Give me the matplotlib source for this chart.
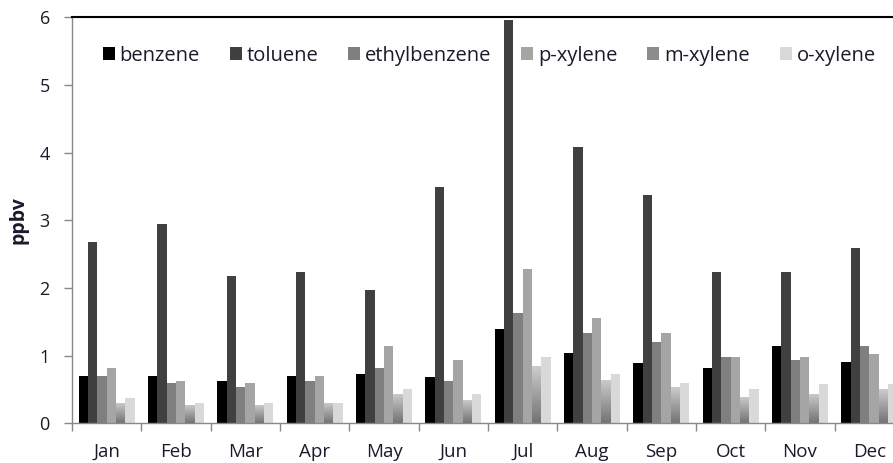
import numpy as np
import matplotlib.pyplot as plt
from matplotlib.patches import Patch

months = ["Jan", "Feb", "Mar", "Apr", "May", "Jun", "Jul", "Aug", "Sep", "Oct", "Nov", "Dec"]
benzene = [0.70, 0.70, 0.63, 0.70, 0.73, 0.68, 1.40, 1.04, 0.89, 0.81, 1.14, 0.91]
toluene = [2.68, 2.95, 2.18, 2.23, 1.97, 3.49, 5.96, 4.08, 3.38, 2.23, 2.23, 2.59]
ethylbenzene = [0.70, 0.60, 0.53, 0.63, 0.81, 0.63, 1.63, 1.33, 1.20, 0.98, 0.94, 1.14]
p_xylene = [0.81, 0.63, 0.60, 0.70, 1.14, 0.94, 2.28, 1.55, 1.33, 0.98, 0.98, 1.02]
m_xylene = [0.30, 0.27, 0.27, 0.30, 0.44, 0.34, 0.84, 0.64, 0.53, 0.39, 0.44, 0.50]
o_xylene = [0.38, 0.30, 0.30, 0.30, 0.50, 0.44, 0.98, 0.73, 0.60, 0.50, 0.58, 0.58]

series = [
    ("benzene", benzene, "#000000"),
    ("toluene", toluene, "#404040"),
    ("ethylbenzene", ethylbenzene, "#7f7f7f"),
    ("p-xylene", p_xylene, "#a5a5a5"),
    ("m-xylene", m_xylene, None),  # gradient fill
    ("o-xylene", o_xylene, "#d9d9d9"),
]

plt.rcParams['font.family'] = ['Open Sans', 'DejaVu Sans']
txt = "#1a1a2a"

fig = plt.figure(figsize=(8.93, 4.63), dpi=100)
ax = fig.add_axes([72 / 893, 39.7 / 463, 832 / 893, 406 / 463])

x = np.arange(len(months))
w = 0.135
n = len(series)
grad = np.linspace(0.80, 0.45, 64).reshape(-1, 1)  # light top -> dark bottom

handles = []
for i, (name, vals, col) in enumerate(series):
    pos = x + (i - (n - 1) / 2) * w
    if col is None:
        bars = ax.bar(pos, vals, w, color="none", edgecolor="none", zorder=2)
        for b in bars:
            x0, y0 = b.get_x(), b.get_y()
            im = ax.imshow(grad, cmap="gray", vmin=0, vmax=1, aspect="auto",
                           extent=(x0, x0 + b.get_width(), y0, y0 + b.get_height()),
                           origin="upper", zorder=2, interpolation="bilinear")
            im.set_clip_path(b)
        handles.append(Patch(facecolor="#8c8c8c", label=name))
    else:
        ax.bar(pos, vals, w, color=col, edgecolor="none", zorder=2)
        handles.append(Patch(facecolor=col, label=name))

ax.set_xlim(-0.5, 11.5)
ax.set_ylim(0, 6)
ax.set_yticks(range(0, 7))

ax.set_xticks(x)
ax.set_xticklabels(months)
ax.set_xticks(np.arange(-0.5, 12, 1), minor=True)
ax.tick_params(axis="x", which="major", length=0, pad=14, labelsize=13.5, labelcolor=txt)
ax.tick_params(axis="x", which="minor", length=6, width=1, color="#888888", direction="out")
ax.tick_params(axis="y", length=6, width=1, color="#888888", direction="out",
               pad=10, labelsize=13, labelcolor=txt)

for s in ("left", "bottom"):
    ax.spines[s].set_color("#888888")
    ax.spines[s].set_linewidth(1)
ax.spines["top"].set_color("#000000")
ax.spines["top"].set_linewidth(1.5)
ax.spines["right"].set_visible(False)

ax.set_ylabel("ppbv", fontsize=14, fontweight="bold", color=txt, labelpad=8)

ax.legend(handles=handles, loc="center left", bbox_to_anchor=(0.015, 0.905), ncol=6,
          frameon=False, fontsize=14.5, handlelength=0.6, handleheight=0.6,
          handletextpad=0.25, columnspacing=1.47, labelcolor=txt)

fig.savefig("out.png", dpi=100)
